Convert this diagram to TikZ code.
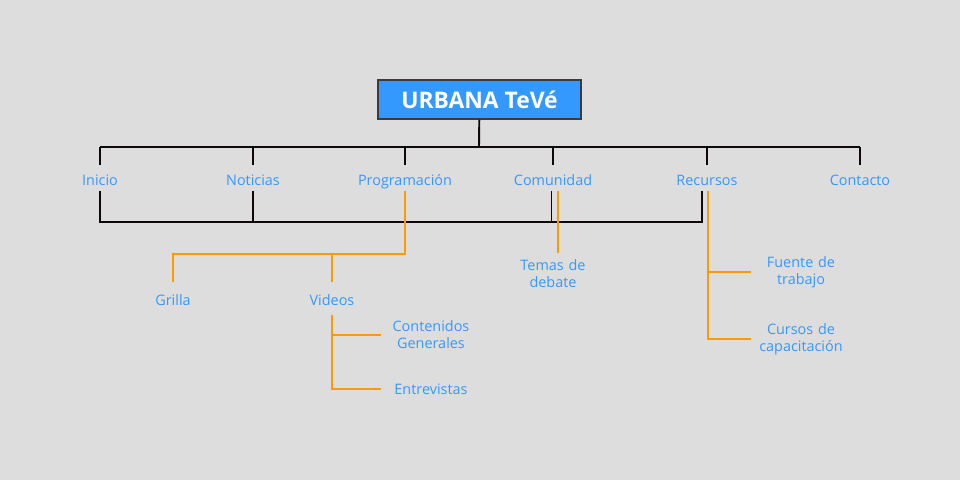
\documentclass[tikz,border=0pt]{standalone}
\usepackage{fontspec}
\setmainfont{Open Sans}
\usepackage{tikz}
\usetikzlibrary{calc}
\usetikzlibrary{positioning}
\usepackage{xcolor}
\definecolor{mybg}{HTML}{DDDDDD}
\definecolor{myblue}{HTML}{3399FF}
\definecolor{myorange}{HTML}{FF9900}
\definecolor{myblack}{HTML}{100808}
\tikzset{every text node part/.style={align=center, font={\fontsize{8.2}{9.6}\selectfont}}}
\tikzstyle{title} = [draw=myblack!80, fill=myblue, text=white, minimum width=4.06cm, minimum height=0.78cm, inner sep=0pt, line width=0.6pt]
\tikzstyle{lbl} = [text=myblue, text height=8pt, text depth=0pt, minimum height=0.52cm, inner sep=0pt]
\tikzstyle{sublbl} = [lbl, minimum height=0.64cm]
\tikzstyle{leaf} = [text=myblue, text width=1.8cm, inner xsep=0.1cm, inner ysep=0pt]
\tikzstyle{blk} = [draw=myblack, line width=1.1pt]
\tikzstyle{org} = [draw=myorange, line width=1.1pt]

\begin{document}
\begin{tikzpicture}[x=0.02cm, y=-0.02cm]

  % Background
  \fill[mybg] (0,0) rectangle (960,480);
  \useasboundingbox (0,0) rectangle (960,480);

  % Define title
  \node[title] (urbana) at (479.5,99.5) {\fontsize{13}{15}\selectfont\bfseries URBANA TeVé};

  % Define menu items
  \node[lbl] (inicio) at (100,178) {Inicio};
  \node[lbl] (noticias) at (253,178) {Noticias};
  \node[lbl] (programacion) at (405,178) {Programación};
  \node[lbl] (comunidad) at (553,178) {Comunidad};
  \node[lbl] (recursos) at (707,178) {Recursos};
  \node[lbl] (contacto) at (860,178) {Contacto};

  % Define sub items
  \node[sublbl] (grilla) at (173,298.5) {Grilla};
  \node[sublbl] (videos) at (332,298.5) {Videos};
  \node[leaf] (contenidos) at (431,335) {Contenidos\\Generales};
  \node[leaf] (entrevistas) at (431,389) {Entrevistas};
  \node[leaf, anchor=north] (temas) at (553,259) {Temas de\\debate};
  \node[leaf] (fuente) at (801,272) {Fuente de\\trabajo};
  \node[leaf] (cursos) at (801,339) {Cursos de\\capacitación};

  \coordinate (bar) at (479,147);
  \coordinate (low) at (479,222);
  \coordinate (split) at (332,254);
  \coordinate (debate) at (558,253);

  % Draw lines
  \draw[blk] (urbana) -- (bar);
  \draw[blk] (inicio.north |- bar) -- (contacto.north |- bar);
  \foreach \menu in {inicio, noticias, programacion, comunidad, recursos, contacto}
    \draw[blk] (\menu.north |- bar) -- (\menu.north);

  \draw[blk] (inicio.south) -- (inicio.south |- low) -- ([xshift=-0.1cm]recursos.south |- low) -- ([xshift=-0.1cm]recursos.south);
  \draw[blk] (noticias.south) -- (noticias.south |- low);
  \draw[blk] ([xshift=-0.03cm]comunidad.south) -- ([xshift=-0.03cm]comunidad.south |- low);

  \draw[org] (programacion.south) |- (split) -| (grilla.north)
             (split) -- (videos.north);
  \draw[org] (videos.south) |- (entrevistas.west)
             (videos.south |- contenidos.west) -- (contenidos.west);
  \draw[org] (debate |- comunidad.south) -- (debate);
  \draw[org] ([xshift=0.02cm]recursos.south) |- (cursos.west)
             ([xshift=0.02cm]recursos.south |- fuente.west) -- (fuente.west);

\end{tikzpicture}
\end{document}
